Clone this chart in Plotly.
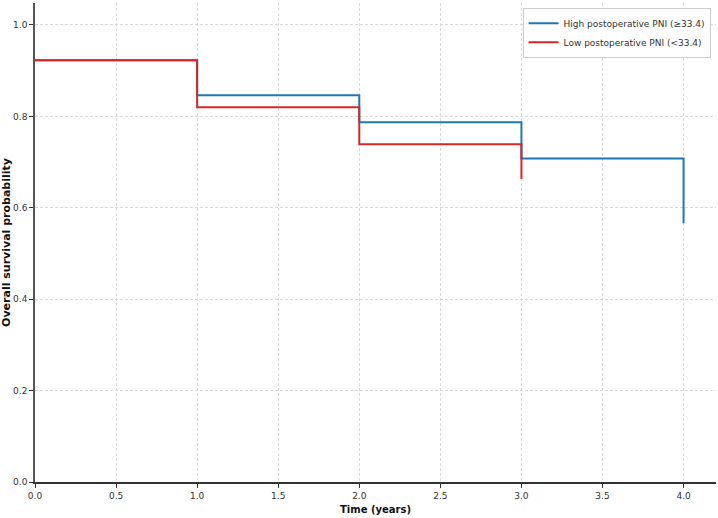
import plotly.graph_objects as go

# Kaplan-Meier step data (survival from each time until the next)
high_time = [0.0, 1.0, 2.0, 3.0, 4.0]
high_surv = [0.923, 0.846, 0.787, 0.708, 0.566]
low_time = [0.0, 1.0, 2.0, 3.0]
low_surv = [0.923, 0.820, 0.739, 0.663]

x_ticks = [0.0, 0.5, 1.0, 1.5, 2.0, 2.5, 3.0, 3.5, 4.0]
y_ticks = [0.0, 0.2, 0.4, 0.6, 0.8, 1.0]

fig = go.Figure()
fig.add_trace(go.Scatter(x=high_time, y=high_surv,
                         mode="lines", line=dict(shape="hv", color="#1f77b4", width=2),
                         name="High postoperative PNI (≥33.4)"))
fig.add_trace(go.Scatter(x=low_time, y=low_surv,
                         mode="lines", line=dict(shape="hv", color="#d62728", width=2),
                         name="Low postoperative PNI (<33.4)"))

font = "DejaVu Sans"
fig.update_layout(
    width=718, height=518,
    margin=dict(l=35, r=2, t=3, b=36),
    plot_bgcolor="white", paper_bgcolor="white",
    font=dict(family=font, size=9, color="#333"),
    legend=dict(x=0.992, y=0.99, xanchor="right", yanchor="top",
                bgcolor="rgba(255,255,255,0.9)", bordercolor="#ccc", borderwidth=1,
                font=dict(size=9, color="#333"), itemwidth=30, tracegroupgap=0),
    xaxis=dict(range=[0, 4.2], tickvals=x_ticks, ticktext=[f"{v:.1f}" for v in x_ticks],
               showgrid=True, gridcolor="#d9d9d9", griddash="3px,2px", gridwidth=1,
               showline=True, linecolor="#333", linewidth=1.5,
               ticks="outside", ticklen=4, tickcolor="#333", zeroline=False,
               title=dict(text="<b>Time (years)</b>", font=dict(size=10, color="#111"), standoff=6)),
    yaxis=dict(range=[0, 1.048], tickvals=y_ticks, ticktext=[f"{v:.1f}" for v in y_ticks],
               showgrid=True, gridcolor="#d9d9d9", griddash="3px,2px", gridwidth=1,
               showline=True, linecolor="#555", linewidth=1.5,
               ticks="outside", ticklen=4, tickcolor="#333", zeroline=False,
               title=dict(text="<b>Overall survival probability</b>", font=dict(size=11, color="#111"), standoff=3)),
)

fig.write_html("out.html")
